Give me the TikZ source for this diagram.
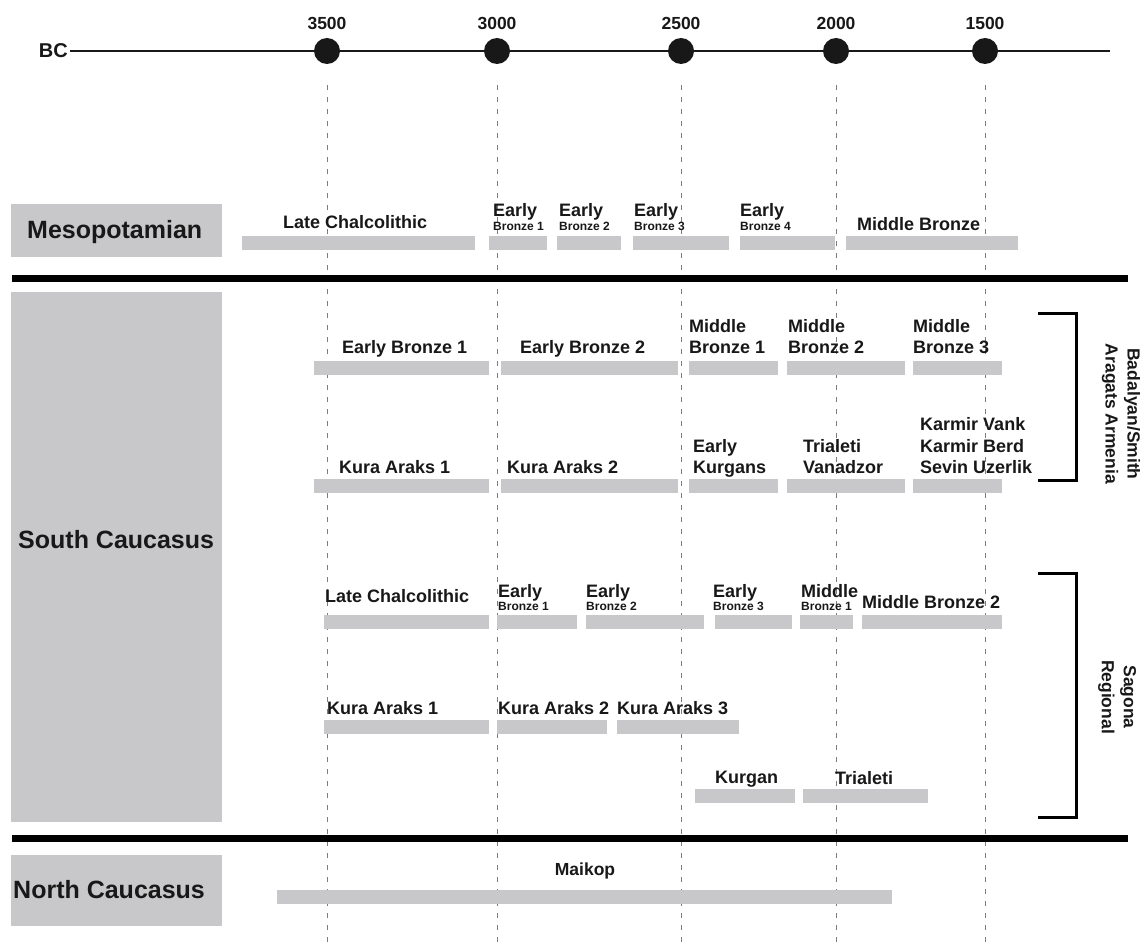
\documentclass[tikz,border=0pt]{standalone}
\usepackage{fontspec}
\setmainfont{Liberation Sans}
\usetikzlibrary{positioning}
\definecolor{bargray}{RGB}{200,200,202}
\definecolor{inkblack}{RGB}{24,24,24}
\definecolor{guidegray}{RGB}{125,125,125}

\begin{document}
\begin{tikzpicture}[x=1pt, y=-1pt, text=inkblack,
    lbl/.style={anchor=base west, inner sep=0pt, font=\bfseries\fontsize{18}{21}\selectfont},
    sml/.style={anchor=base west, inner sep=0pt, font=\bfseries\fontsize{12}{13}\selectfont},
    region/.style={anchor=base west, inner sep=0pt, font=\bfseries\fontsize{25}{30}\selectfont},
    regbox/.style={fill=bargray, draw=none, inner sep=0pt},
    period/.style={fill=bargray},
    guide/.style={draw=guidegray, line width=0.8pt, dash pattern=on 5pt off 7pt},
    sep/.style={draw=black, line width=7pt},
    brace/.style={draw=black, line width=3pt},
    side/.style={rotate=-90, align=center, inner sep=0pt, font=\bfseries\fontsize{17.5}{22}\selectfont}]
  \useasboundingbox (0,0) rectangle (1140,944);

  % time axis
  \draw[line width=1.5pt, inkblack] (70,51) -- (1110,51);
  \node[anchor=base east, inner sep=0pt, font=\bfseries\fontsize{20}{24}\selectfont] (bc) at (68,58) {BC};
  \foreach \x/\yr in {327/3500, 497/3000, 681/2500, 836/2000, 985/1500} {
    \draw[guide] (\x,85) -- (\x,944);
    \node[circle, fill=inkblack, minimum size=26pt, inner sep=0pt] (dot\yr) at (\x,51) {};
    \node[anchor=base, inner sep=0pt, font=\bfseries\fontsize{17.5}{21}\selectfont] (yr\yr) at (\x,30) {\yr};
  }

  % region boxes
  \node[regbox, minimum width=211pt, minimum height=53pt] (mesobox) at (116.5,230.5) {};
  \node[regbox, minimum width=211pt, minimum height=530pt] (scbox) at (116.5,557) {};
  \node[regbox, minimum width=211pt, minimum height=71pt] (ncbox) at (116.5,890.5) {};
  \node[region] (meso) at (27,238) {Mesopotamian};
  \node[region] (sc) at (18,548) {South Caucasus};
  \node[region] (nc) at (13,898) {North Caucasus};

  \draw[sep] (12,278) -- (1128,278);
  \draw[sep] (12,838) -- (1128,838);

  % bars
  \foreach \a/\b/\t in {242/475/236, 489/547/236, 557/621/236, 633/729/236, 740/835/236, 846/1018/236,
      314/489/361, 501/678/361, 689/778/361, 787/905/361, 913/1002/361,
      314/489/479, 501/678/479, 689/778/479, 787/905/479, 913/1002/479,
      324/489/615, 497/577/615, 586/704/615, 715/792/615, 800/853/615, 862/1002/615,
      324/489/720, 497/607/720, 617/739/720,
      695/795/789, 803/928/789,
      277/892/890}
    \fill[period] (\a,\t) rectangle (\b,{\t+14});

  % Mesopotamian
  \node[lbl] (mlc) at (283,229) {Late Chalcolithic};
  \node[lbl] (meb1) at (493,217) {Early};
  \node[sml] (meb1n) at (493,230) {Bronze 1};
  \node[lbl] (meb2) at (559,217) {Early};
  \node[sml] (meb2n) at (559,230) {Bronze 2};
  \node[lbl] (meb3) at (634,217) {Early};
  \node[sml] (meb3n) at (634,230) {Bronze 3};
  \node[lbl] (meb4) at (740,217) {Early};
  \node[sml] (meb4n) at (740,230) {Bronze 4};
  \node[lbl] (mmb) at (857,230) {Middle Bronze};

  % Badalyan/Smith
  \node[lbl] (beb1) at (342,353) {Early Bronze 1};
  \node[lbl] (beb2) at (520,353) {Early Bronze 2};
  \node[lbl] (bmb1) at (689,332) {Middle};
  \node[lbl] (bmb1n) at (689,353) {Bronze 1};
  \node[lbl] (bmb2) at (788,332) {Middle};
  \node[lbl] (bmb2n) at (788,353) {Bronze 2};
  \node[lbl] (bmb3) at (913,332) {Middle};
  \node[lbl] (bmb3n) at (913,353) {Bronze 3};
  \node[lbl] (bka1) at (339,473) {Kura Araks 1};
  \node[lbl] (bka2) at (507,473) {Kura Araks 2};
  \node[lbl] (bkur) at (693,452) {Early};
  \node[lbl] (bkurn) at (693,473) {Kurgans};
  \node[lbl] (btri) at (803,452) {Trialeti};
  \node[lbl] (btrin) at (803,473) {Vanadzor};
  \node[lbl] (bkv) at (920,430) {Karmir Vank};
  \node[lbl] (bkb) at (920,452) {Karmir Berd};
  \node[lbl] (bsu) at (920,473) {Sevin Uzerlik};

  \coordinate (btop) at (1038,313);
  \coordinate (bbot) at (1038,480);
  \draw[brace] (btop) -| (1076,480) -- (bbot);
  \node[side] (bname) at (1121,414) {Badalyan/Smith\\Aragats Armenia};

  % Sagona
  \node[lbl] (slc) at (325,602) {Late Chalcolithic};
  \node[lbl] (seb1) at (498,597) {Early};
  \node[sml] (seb1n) at (498,610) {Bronze 1};
  \node[lbl] (seb2) at (586,597) {Early};
  \node[sml] (seb2n) at (586,610) {Bronze 2};
  \node[lbl] (seb3) at (713,597) {Early};
  \node[sml] (seb3n) at (713,610) {Bronze 3};
  \node[lbl] (smb1) at (801,597) {Middle};
  \node[sml] (smb1n) at (801,610) {Bronze 1};
  \node[lbl] (smb2) at (862,608) {Middle Bronze 2};
  \node[lbl] (ska1) at (327,714) {Kura Araks 1};
  \node[lbl] (ska2) at (498,714) {Kura Araks 2};
  \node[lbl] (ska3) at (617,714) {Kura Araks 3};
  \node[lbl] (skur) at (715,783) {Kurgan};
  \node[lbl] (stri) at (835,784) {Trialeti};

  \coordinate (stop) at (1038,573);
  \coordinate (sbot) at (1038,817);
  \draw[brace] (stop) -| (1076,817) -- (sbot);
  \node[side] (sname) at (1117,697) {Sagona\\Regional};

  % North Caucasus
  \node[anchor=base, inner sep=0pt, font=\bfseries\fontsize{17.5}{21}\selectfont] (maikop) at (585,875) {Maikop};
\end{tikzpicture}
\end{document}
